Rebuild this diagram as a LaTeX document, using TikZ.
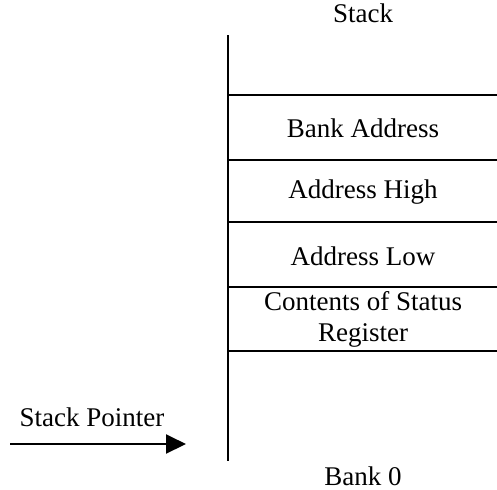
\documentclass[tikz,border=0pt]{standalone}
\usepackage{fontspec}
\setmainfont{Liberation Serif}
\usepackage{tikz}
\usetikzlibrary{arrows.meta}

\begin{document}
\begin{tikzpicture}[x=0.5pt,y=-0.5pt,
    stackline/.style={black,line width=1pt},
    celltext/.style={font=\fontsize{13.5}{15.5}\selectfont,align=center,inner sep=0pt}]
    \useasboundingbox (0,0) rectangle (497,489);
    % stack frame
    \draw[stackline] (228,35) -- (228,461);
    \foreach \y in {95,160,222,287,351}
      \draw[stackline] (228,\y) -- (497,\y);
    % labels
    \node[celltext] (stacktitle) at (363,13) {Stack};
    \node[celltext] (bankaddr) at (363,128) {Bank Address};
    \node[celltext] (addrhigh) at (363,192) {Address High};
    \node[celltext] (addrlow) at (363,256) {Address Low};
    \node[celltext] (status) at (363,319) {Contents of Status\\Register};
    \node[celltext] (bankzero) at (363,476) {Bank 0};
    % stack pointer
    \node[celltext] (sptext) at (92,417) {Stack Pointer};
    \coordinate (sptail) at (10,444);
    \coordinate (sphead) at (186,444);
    \draw[stackline,-{Triangle[length=10pt,width=9.5pt]}] (sptail) -- (sphead);
  \end{tikzpicture}
\end{document}
